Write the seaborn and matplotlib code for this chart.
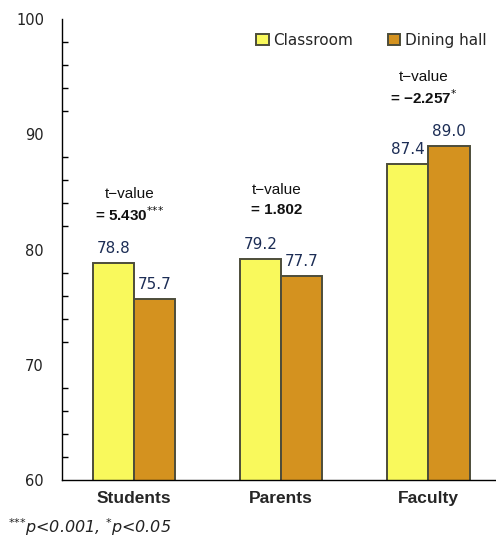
import numpy as np
import pandas as pd
import matplotlib
matplotlib.use("Agg")
import matplotlib.pyplot as plt
import seaborn as sns
from matplotlib.ticker import MultipleLocator

# data
groups = ["Students", "Parents", "Faculty"]
places = ["Classroom", "Dining hall"]
classroom = [78.8, 79.2, 87.4]
dining = [75.7, 77.7, 89.0]
t_values = ["5.430", "1.802", "\u22122.257"]
t_stars = ["***", "", "*"]

colors = {"Classroom": "#F9F95C", "Dining hall": "#D4921F"}

df = pd.DataFrame({
    "group": groups * 2,
    "place": [places[0]] * 3 + [places[1]] * 3,
    "score": classroom + dining,
})

sns.set_style("white")
plt.rcParams["font.family"] = ["DejaVu Sans"]

fig = plt.figure(figsize=(4.96, 5.41), dpi=100)
ax = fig.add_axes([0.125, 0.1128, 0.875, 0.852])

sns.barplot(data=df, x="group", y="score", hue="place", order=groups,
            hue_order=places, palette=colors, saturation=1, width=0.56,
            dodge=True, edgecolor="#4d4d3a", linewidth=1.4, ax=ax)

ax.set_ylim(60, 100)
ax.set_xlim(-0.49, 2.46)
ax.yaxis.set_major_locator(MultipleLocator(10))
ax.yaxis.set_minor_locator(MultipleLocator(2))
ax.tick_params(axis="y", which="major", direction="inout", length=8,
               width=1, labelsize=10.5, color="black", labelcolor="#222222",
               pad=9)
ax.tick_params(axis="y", which="minor", direction="in", length=4.5,
               width=1, color="black", left=True)
ax.tick_params(axis="x", length=0, pad=8)
for lab in ax.get_xticklabels():
    lab.set_fontweight("bold")
    lab.set_fontsize(12.5)
    lab.set_fontfamily(["Liberation Sans", "DejaVu Sans"])
ax.set_xlabel("")
ax.set_ylabel("")
for side in ["top", "right"]:
    ax.spines[side].set_visible(False)
for side in ["left", "bottom"]:
    ax.spines[side].set_color("black")
    ax.spines[side].set_linewidth(1)

# value labels above bars
for cont in ax.containers:
    ax.bar_label(cont, fmt="%.1f", padding=5, fontsize=11,
                 color="#1c2d55")

# t-value annotations
for i, g in enumerate(groups):
    top = max(classroom[i], dining[i])
    ax.text(i - 0.03, top + 6.0, "t\u2212value", ha="center", va="center",
            fontsize=11, color="#111111",
            family=["Liberation Sans", "DejaVu Sans"])
    label = "= " + t_values[i]
    if t_stars[i]:
        label += r"$^{" + "".join("{*}" for _ in t_stars[i]) + "}$"
    ax.text(i - 0.03, top + 4.2, label, ha="center", va="center",
            fontsize=11, fontweight="bold", color="#111111",
            family=["Liberation Sans", "DejaVu Sans"])

ax.legend(loc="upper right", bbox_to_anchor=(1.01, 1.0), ncol=2,
          frameon=False, fontsize=11, handlelength=0.8, handleheight=0.8,
          handletextpad=0.3, columnspacing=2.3)

fig.text(0.016, 0.026, r"$^{{*}{*}{*}}$p<0.001, $^{{*}}$p<0.05",
         style="italic", fontsize=11.5, color="#222222", va="center")

fig.savefig("out.png", dpi=100)
